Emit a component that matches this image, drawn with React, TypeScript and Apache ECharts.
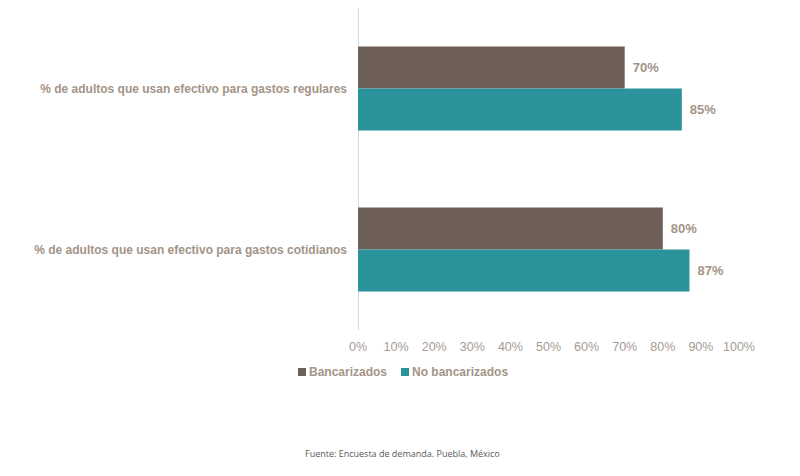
import React, { useEffect, useRef } from "react";
import * as echarts from "echarts";

const categories = [
  "% de adultos que usan efectivo para gastos regulares",
  "% de adultos que usan efectivo para gastos cotidianos",
];
const bancarizados = [70, 80];
const noBancarizados = [85, 87];
const seriesNames = ["Bancarizados", "No bancarizados"];
const source = "Fuente: Encuesta de demanda. Puebla, México";

const labelColor = "#A39487";
const font = "Liberation Sans, Arial, sans-serif";

export default function App() {
  const ref = useRef<HTMLDivElement>(null);
  useEffect(() => {
    const chart = echarts.init(ref.current!, null, { renderer: "svg" });
    const barLabel = {
      show: true,
      position: "right" as const,
      distance: 8,
      formatter: "{c}%",
      color: labelColor,
      fontWeight: "bold" as const,
      fontSize: 13,
      fontFamily: font,
    };
    chart.setOption({
      animation: false,
      backgroundColor: "#ffffff",
      grid: { left: 350, right: 69, top: 0, bottom: 154, containLabel: false },
      xAxis: {
        type: "value",
        min: 0,
        max: 100,
        interval: 10,
        axisLine: { show: false },
        axisTick: { show: false },
        splitLine: { show: false },
        axisLabel: {
          formatter: "{value}%",
          color: "#A69C95",
          fontSize: 12.5,
          margin: 10,
          fontFamily: font,
        },
      },
      yAxis: {
        type: "category",
        data: categories,
        inverse: true,
        axisLine: { show: true, lineStyle: { color: "#D9D9D9", width: 1 } },
        axisTick: { show: false },
        axisLabel: {
          color: labelColor,
          fontWeight: "bold",
          fontSize: 12,
          margin: 11,
          fontFamily: font,
        },
      },
      legend: {
        data: seriesNames,
        left: 285,
        top: 353,
        itemWidth: 8,
        itemHeight: 8,
        itemGap: 14,
        icon: "rect",
        textStyle: {
          color: labelColor,
          fontWeight: "bold",
          fontSize: 12,
          fontFamily: font,
          padding: [0, 0, 0, -2],
        },
      },
      graphic: [
        {
          type: "text",
          left: 297,
          top: 441,
          style: {
            text: source,
            fill: "#595959",
            fontSize: 9,
            fontFamily: "Open Sans, Noto Sans, sans-serif",
          },
        },
      ],
      series: [
        {
          name: seriesNames[0],
          type: "bar",
          data: bancarizados,
          barWidth: 42,
          barGap: "0%",
          itemStyle: { color: "#6E6057" },
          label: barLabel,
        },
        {
          name: seriesNames[1],
          type: "bar",
          data: noBancarizados,
          barWidth: 42,
          barGap: "0%",
          itemStyle: { color: "#2A939C" },
          label: barLabel,
        },
      ],
    });
    return () => chart.dispose();
  }, []);
  return <div ref={ref} style={{ width: 800, height: 476 }} />;
}
